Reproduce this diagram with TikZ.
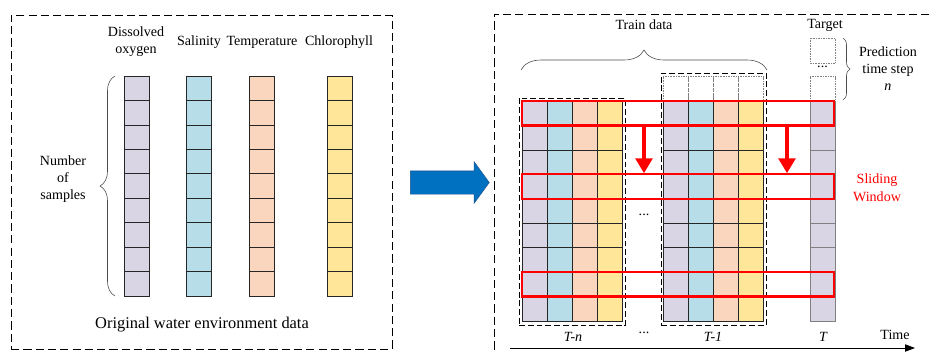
\documentclass[tikz,border=0pt]{standalone}
\usepackage{fontspec}
\setmainfont{Liberation Serif}
\usepackage{tikz}
\usetikzlibrary{arrows.meta, positioning, fit, shapes.arrows, decorations.pathreplacing}

\definecolor{oxy}{RGB}{218,213,228}
\definecolor{sal}{RGB}{182,221,232}
\definecolor{tem}{RGB}{250,214,190}
\definecolor{chl}{RGB}{255,230,153}
\definecolor{shiftblue}{RGB}{0,112,192}
\definecolor{shiftedge}{RGB}{35,80,140}

\begin{document}
\begin{tikzpicture}[
  x=0.03cm, y=-0.03cm,
  txt/.style={font=\fontsize{12}{14.5}\selectfont, align=center, inner sep=0},
  title/.style={font=\fontsize{14}{16}\selectfont, inner sep=0},
  panel/.style={draw, dash pattern=on 7pt off 3.5pt, line width=0.7pt, inner sep=0},
  lagbox/.style={draw, dash pattern=on 5pt off 2.5pt, line width=0.7pt, inner sep=0},
  cell/.style={draw=black!85, line width=0.5pt},
  ghost/.style={draw=gray, densely dotted, line width=0.4pt},
  window/.style={draw=red, line width=1.8pt, inner sep=0},
  slide/.style={-{Triangle[width=0.5cm,length=0.45cm]}, draw=red, fill=red, line width=3.4pt},
  timeline/.style={-{Triangle[width=0.22cm,length=0.3cm]}, line width=0.7pt},
  curly/.style={decorate, decoration={brace, amplitude=#1}, draw=black!70, line width=0.5pt},
  curly/.default=0.3cm
]
\useasboundingbox (0,0) rectangle (930,353);

% left panel: original data
\node[panel, fit={(11,15) (392,349)}] (orig) {};
\foreach \x/\c in {124/oxy, 186/sal, 249/tem, 327/chl}
  \foreach \r in {0,...,8}
    \draw[cell, fill=\c] (\x, 76+\r*24.44) rectangle ++(25, 24.44);

\node[txt] (oxylbl) at (136,41.5) {Dissolved\\oxygen};
\node[txt] (sallbl) at (199,42) {Salinity};
\node[txt] (temlbl) at (262,42) {Temperature};
\node[txt] (chllbl) at (339,42) {Chlorophyll};
\draw[curly=0.45cm] (115,296) -- (115,76);
\node[txt] (nsamp) at (63,179) {Number\\of\\samples};
\node[title] (origlbl) at (202,325) {Original water environment data};

% shift arrow
\node[single arrow, draw=shiftedge, fill=shiftblue, line width=0.4pt,
  inner xsep=0, inner ysep=0.345cm, minimum height=2.37cm,
  single arrow head extend=0.27cm, single arrow tip angle=108] (shift) at (445.5,182.5) {};

% right panel: sliding window samples
\node[panel, fit={(494,14) (980,400)}] (slid) {};
\foreach \x in {522, 663}
  \foreach \c [count=\i from 0] in {oxy, sal, tem, chl}
    \foreach \r in {0,...,8}
      \draw[cell, fill=\c] (\x+\i*25, 101+\r*24.44) rectangle ++(25, 24.44);
\foreach \r in {0,...,8}
  \draw[cell, draw=gray, fill=oxy] (810, 101+\r*24.44) rectangle ++(25, 24.44);

\foreach \i in {0,...,3}
  \draw[ghost] (663+\i*25, 76.56) rectangle ++(25, 24.44);
\draw[ghost] (810,38) rectangle ++(25,25);
\draw[ghost] (810,76.56) rectangle ++(25,24.44);
\node[txt] (tdots) at (822.5,67) {...};

\node[lagbox, fit={(519,98) (625,325)}] (lagn) {};
\node[lagbox, fit={(661,73) (766,325)}] (lag1) {};

\node[window, fit={(522,101) (834,125.44)}] (win1) {};
\node[window, fit={(522,174.32) (834,198.76)}] (win2) {};
\node[window, fit={(522,272.08) (834,296.52)}] (win3) {};

\coordinate (s1) at (644,0);
\coordinate (s2) at (787,0);
\draw[slide] (win1.south -| s1) -- (win2.north -| s1);
\draw[slide] (win1.south -| s2) -- (win2.north -| s2);
\node[txt, text=red, font=\fontsize{12}{15.3}\selectfont] (slidlbl) at (877,188) {Sliding\\Window};

\node[txt] (train) at (644,25) {Train data};
\draw[curly=0.6cm] (521,70) -- (767,70);
\node[txt] (target) at (825,25) {Target};
\draw[curly=0.21cm] (843,38) -- (843,100);
\node[txt] (horizon) at (888,69) {Prediction\\time step\\\textit{n}};

\node[txt] (mdots) at (644,215) {...};
\node[txt] (bdots) at (644,333) {...};
\node[txt, font=\fontsize{12}{14.5}\selectfont\itshape] (tn) at (573,337) {T-n};
\node[txt, font=\fontsize{12}{14.5}\selectfont\itshape] (t1) at (713,337) {T-1};
\node[txt, font=\fontsize{12}{14.5}\selectfont\itshape] (tt) at (823,337) {T};
\node[txt] (timelbl) at (895,335) {Time};

\coordinate (time0) at (510,348);
\coordinate (time1) at (915,348);
\draw[timeline] (time0) -- (time1);
\end{tikzpicture}
\end{document}
